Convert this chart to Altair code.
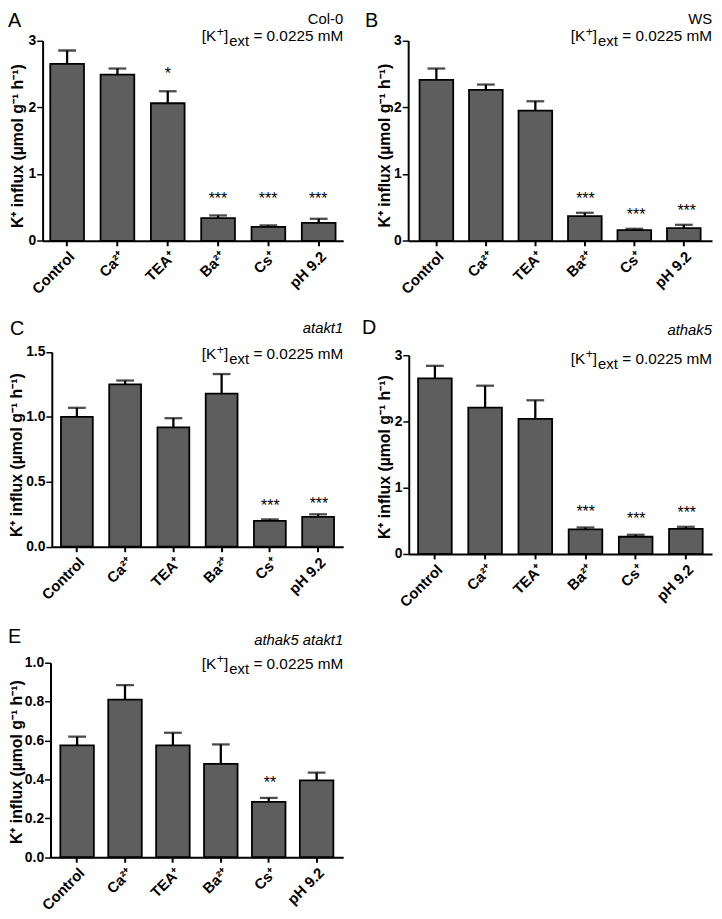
import altair as alt
import pandas as pd

# ---------------- data ----------------
categories = ["Control", "Ca²⁺", "TEA⁺", "Ba²⁺", "Cs⁺", "pH 9.2"]

a_mean = [2.65, 2.49, 2.06, 0.34, 0.21, 0.27]
a_sem = [0.20, 0.09, 0.18, 0.04, 0.02, 0.06]
a_star = ["", "", "*", "***", "***", "***"]
a_star_y = [None, None, 2.55, 0.69, 0.69, 0.69]

b_mean = [2.41, 2.26, 1.95, 0.37, 0.16, 0.19]
b_sem = [0.17, 0.08, 0.14, 0.05, 0.02, 0.05]
b_star = ["", "", "", "***", "***", "***"]
b_star_y = [None, None, None, 0.69, 0.44, 0.51]

c_mean = [1.00, 1.25, 0.92, 1.18, 0.20, 0.23]
c_sem = [0.07, 0.03, 0.07, 0.15, 0.01, 0.02]
c_star = ["", "", "", "", "***", "***"]
c_star_y = [None, None, None, None, 0.345, 0.363]

d_mean = [2.65, 2.21, 2.04, 0.37, 0.26, 0.38]
d_sem = [0.19, 0.33, 0.28, 0.03, 0.03, 0.03]
d_star = ["", "", "", "***", "***", "***"]
d_star_y = [None, None, None, 0.69, 0.58, 0.67]

e_mean = [0.575, 0.81, 0.575, 0.48, 0.285, 0.395]
e_sem = [0.045, 0.075, 0.065, 0.10, 0.02, 0.04]
e_star = ["", "", "", "", "**", ""]
e_star_y = [None, None, None, None, 0.40, None]

genotypes = ["Col-0", "WS", "atakt1", "athak5", "athak5 atakt1"]
genotype_italic = [False, False, True, True, True]
condition_main = " = 0.0225 mM"
y_title = "K⁺ influx (µmol g⁻¹ h⁻¹)"

# ---------------- layout ----------------
W, H = 714, 911
FONT = "Liberation Sans"
BAR_FILL = "#5e5e5e"

layout = {
    "A": dict(xr=[35, 339], yr=[230.3, 27.7], dom=[0, 3], ticks=[0, 1, 2, 3], fmt="d",
              pi=0.33, po=0.152, tx=-17.5, ty=134, lx=0, ly=14.5, R=339, y1=11, y2=28.7),
    "B": dict(xr=[404.7, 712], yr=[230.3, 27.7], dom=[0, 3], ticks=[0, 1, 2, 3], fmt="d",
              pi=0.32, po=0.23, tx=-15.7, ty=133.5, lx=361, ly=14.5, R=712, y1=11, y2=28.7),
    "C": dict(xr=[44.3, 339], yr=[539.7, 342.7], dom=[0, 1.5], ticks=[0, 0.5, 1.0, 1.5], fmt=".1f",
              pi=0.34, po=0.19, tx=-27.3, ty=446.5, lx=2, ly=325.3, R=339, y1=323.7, y2=350.3),
    "D": dict(xr=[405.3, 712], yr=[547, 346], dom=[0, 3], ticks=[0, 1, 2, 3], fmt="d",
              pi=0.33, po=0.186, tx=-16, ty=448.5, lx=358, ly=325, R=712, y1=325.3, y2=355.3),
    "E": dict(xr=[43, 339], yr=[853.7, 657], dom=[0, 1], ticks=[0, 0.2, 0.4, 0.6, 0.8, 1.0], fmt=".1f",
              pi=0.30, po=0.205, tx=-26, ty=757, lx=0, ly=637, R=339, y1=638.7, y2=663.7),
}

# Arial / Liberation Sans advance widths (per 1000 em)
ADV = {' ': 278, '=': 584, '0': 556, '.': 278, '2': 556, '5': 556, 'm': 833, 'M': 833,
       'e': 556, 'x': 500, 't': 278, ']': 278, '+': 584, '[': 278, 'K': 667}


def tw(s, size):
    return sum(ADV[c] for c in s) / 1000.0 * size


one = pd.DataFrame({"k": [0]})


def txt(text, x, y, size, align="right", style="normal", weight="normal"):
    return alt.Chart(one).mark_text(
        text=text, align=align, baseline="alphabetic", font=FONT, fontSize=size,
        fontStyle=style, fontWeight=weight, color="black"
    ).encode(x=alt.value(x), y=alt.value(y))


def condition_text(R, y2):
    main, sub, sup = 15.5, 15, 12.5
    layers = [txt(condition_main, R, y2, main)]
    x = R - tw(condition_main, main)
    layers.append(txt("ext", x, y2 + 4.5, sub))
    x -= tw("ext", sub) + 1
    layers.append(txt("]", x, y2, main))
    x -= tw("]", main)
    layers.append(txt("+", x, y2 - 6, sup))
    x -= tw("+", sup) + 0.5
    layers.append(txt("[K", x, y2, main))
    return layers


def panel(key, mean, sem, star, star_y, geno, italic):
    L = layout[key]
    df = pd.DataFrame({
        "cat": categories,
        "mean": mean,
        "top": [m + s for m, s in zip(mean, sem)],
        "star": star,
        "sy": star_y,
    })
    xs = alt.Scale(domain=categories, range=L["xr"], paddingInner=L["pi"], paddingOuter=L["po"])
    ys = alt.Scale(domain=L["dom"], range=L["yr"], nice=False, zero=True)
    xaxis = alt.Axis(orient="bottom", offset=L["yr"][0] - H, title=None, labelAngle=315,
                     labelFont=FONT, labelFontSize=15, labelFontWeight="bold", labelColor="black",
                     labelPadding=3, tickSize=5, tickWidth=2, tickColor="black",
                     domainColor="black", domainWidth=2, grid=False, labelOverlap=False)
    yaxis = alt.Axis(orient="left", offset=-L["xr"][0], values=L["ticks"], format=L["fmt"],
                     title=y_title, titleX=L["tx"], titleY=L["ty"], titleAngle=270,
                     titleBaseline="bottom", titleAlign="center",
                     titleFont=FONT, titleFontSize=16, titleFontWeight="bold", titleColor="black",
                     labelFont=FONT, labelFontSize=14, labelFontWeight="bold", labelColor="black",
                     labelPadding=1, tickSize=6, tickWidth=1.5, tickColor="black",
                     domainColor="black", domainWidth=2, grid=False, labelFlush=False,
                     labelOverlap=False)
    base = alt.Chart(df)
    bars = base.mark_bar(fill=BAR_FILL, stroke="black", strokeWidth=1.8).encode(
        x=alt.X("cat:N", scale=xs, axis=xaxis),
        y=alt.Y("mean:Q", scale=ys, axis=yaxis),
    )
    rules = base.mark_rule(color="black", strokeWidth=2.3).encode(
        x=alt.X("cat:N", scale=xs, axis=None),
        y=alt.Y("mean:Q", scale=ys, axis=None),
        y2="top:Q",
    )
    caps = base.mark_tick(color="black", size=18, thickness=2.3, orient="horizontal").encode(
        x=alt.X("cat:N", scale=xs, axis=None),
        y=alt.Y("top:Q", scale=ys, axis=None),
    )
    stars = base.transform_filter("isValid(datum.sy)").mark_text(
        font=FONT, fontSize=16, baseline="alphabetic", dy=9, color="black"
    ).encode(
        x=alt.X("cat:N", scale=xs, axis=None),
        y=alt.Y("sy:Q", scale=ys, axis=None),
        text="star:N",
    )
    annotations = [
        txt(key, L["lx"], L["ly"], 20, align="left"),
        txt(geno, L["R"], L["y1"], 15, style="italic" if italic else "normal"),
    ] + condition_text(L["R"], L["y2"])
    return [bars, rules, caps, stars] + annotations


all_layers = []
all_layers += panel("A", a_mean, a_sem, a_star, a_star_y, genotypes[0], genotype_italic[0])
all_layers += panel("B", b_mean, b_sem, b_star, b_star_y, genotypes[1], genotype_italic[1])
all_layers += panel("C", c_mean, c_sem, c_star, c_star_y, genotypes[2], genotype_italic[2])
all_layers += panel("D", d_mean, d_sem, d_star, d_star_y, genotypes[3], genotype_italic[3])
all_layers += panel("E", e_mean, e_sem, e_star, e_star_y, genotypes[4], genotype_italic[4])

chart = alt.layer(*all_layers).resolve_scale(
    x="independent", y="independent"
).resolve_axis(
    x="independent", y="independent"
).properties(
    width=W, height=H, padding=0,
    autosize=alt.AutoSizeParams(type="none"),
).configure(
    font=FONT
).configure_view(
    strokeWidth=0
)

chart.save("out.html", embed_options={"renderer": "svg", "actions": False})
